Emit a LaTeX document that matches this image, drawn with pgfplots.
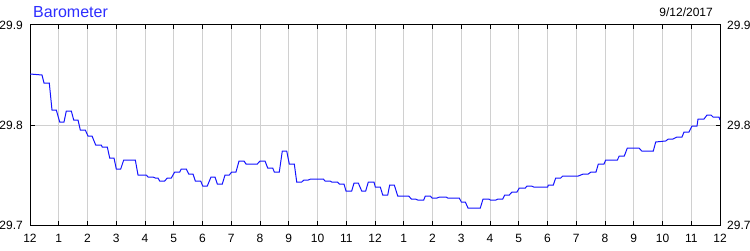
\documentclass[border=0pt]{standalone}
\usepackage{pgfplots}
\pgfplotsset{compat=1.18}
\usepackage{fontspec}
\setmainfont{Liberation Sans}
\definecolor{linecol}{RGB}{20,20,255}
\definecolor{titlecol}{RGB}{45,45,255}
\definecolor{gridcol}{RGB}{208,208,208}
\begin{document}
\begin{tikzpicture}[x=1bp,y=1bp]
\useasboundingbox (0,0) rectangle (750,250);
\begin{axis}[
  at={(30bp,25bp)}, anchor=south west,
  scale only axis, width=690bp, height=200bp,
  xmin=0, xmax=24, ymin=29.7, ymax=29.9,
  xtick={0,...,24},
  xticklabels={12,1,2,3,4,5,6,7,8,9,10,11,12,1,2,3,4,5,6,7,8,9,10,11,12},
  ytick={29.7,29.8,29.9},
  /pgf/number format/assume math mode=true,
  /pgf/number format/fixed,
  /pgf/number format/precision=1,
  /pgf/number format/fixed zerofill,
  tick label style={font=\fontsize{12bp}{14bp}\selectfont, text=black},
  xticklabel style={inner sep=0pt, yshift=-9bp},
  yticklabel style={inner sep=0pt, xshift=-7bp},
  ytick pos=both, xtick pos=both,
  yticklabel pos=left,
  tick align=inside,
  major tick length=4.5bp,
  every tick/.style={black, line width=1bp},
  axis line style={black, line width=1bp},
  grid=major,
  major grid style={gridcol, line width=1bp},
  clip=true,
]
\addplot[linecol, line width=1bp] coordinates {
(0,29.851)(0.417,29.850)(0.487,29.842)(0.671,29.842)(0.765,29.815)(0.915,29.815)
(1.033,29.803)(1.183,29.803)(1.263,29.814)(1.437,29.814)(1.520,29.805)(1.670,29.805)
(1.750,29.795)(1.923,29.795)(2.017,29.789)(2.157,29.789)(2.285,29.780)(2.480,29.780)
(2.515,29.778)(2.689,29.778)(2.772,29.767)(2.922,29.767)(3.002,29.756)(3.155,29.756)
(3.259,29.765)(3.663,29.765)(3.757,29.750)(4.045,29.750)(4.104,29.748)(4.278,29.748)
(4.358,29.747)(4.452,29.747)(4.511,29.744)(4.685,29.744)(4.776,29.747)(4.915,29.747)
(5.033,29.753)(5.207,29.753)(5.263,29.756)(5.437,29.756)(5.520,29.751)(5.670,29.751)
(5.750,29.744)(5.937,29.744)(6.007,29.739)(6.167,29.739)(6.296,29.748)(6.435,29.748)
(6.515,29.741)(6.689,29.741)(6.783,29.750)(6.932,29.750)(7.016,29.753)(7.165,29.753)
(7.270,29.764)(7.443,29.764)(7.513,29.761)(7.906,29.761)(8.000,29.764)(8.174,29.764)
(8.268,29.757)(8.442,29.757)(8.497,29.753)(8.671,29.753)(8.776,29.774)(8.929,29.774)
(9.019,29.761)(9.193,29.761)(9.277,29.743)(9.450,29.743)(9.530,29.745)(9.680,29.745)
(9.763,29.746)(10.202,29.746)(10.261,29.744)(10.435,29.744)(10.494,29.743)(10.689,29.743)
(10.758,29.741)(10.922,29.741)(10.991,29.734)(11.190,29.734)(11.270,29.742)(11.419,29.742)
(11.537,29.734)(11.677,29.734)(11.767,29.743)(11.965,29.743)(12.010,29.738)(12.184,29.738)
(12.268,29.730)(12.442,29.730)(12.511,29.740)(12.671,29.740)(12.790,29.729)(13.172,29.729)
(13.263,29.726)(13.402,29.726)(13.485,29.725)(13.694,29.725)(13.750,29.729)(13.923,29.729)
(13.983,29.727)(14.157,29.727)(14.250,29.728)(14.470,29.728)(14.529,29.727)(14.932,29.727)
(15.002,29.723)(15.141,29.723)(15.235,29.717)(15.663,29.717)(15.757,29.726)(15.955,29.726)
(16.010,29.725)(16.209,29.725)(16.278,29.726)(16.442,29.726)(16.511,29.730)(16.671,29.730)
(16.765,29.733)(16.939,29.733)(17.019,29.737)(17.228,29.737)(17.287,29.739)(17.437,29.739)
(17.520,29.738)(18.007,29.738)(18.028,29.740)(18.202,29.740)(18.285,29.747)(18.459,29.747)
(18.529,29.749)(19.071,29.749)(19.245,29.751)(19.419,29.751)(19.513,29.753)(19.687,29.753)
(19.767,29.761)(19.965,29.761)(20.024,29.765)(20.428,29.765)(20.497,29.769)(20.671,29.769)
(20.776,29.777)(21.183,29.777)(21.277,29.774)(21.680,29.774)(21.763,29.783)(22.111,29.784)
(22.202,29.786)(22.365,29.786)(22.504,29.788)(22.678,29.788)(22.748,29.793)(22.922,29.793)
(23.026,29.799)(23.200,29.799)(23.235,29.806)(23.443,29.806)(23.548,29.810)(23.687,29.810)
(23.757,29.808)(23.965,29.808)(24,29.805)
};
\end{axis}
\node[anchor=west, inner sep=0pt, text=titlecol, font=\fontsize{16bp}{18bp}\selectfont] at (33,238) {Barometer};
\node[anchor=east, inner sep=0pt, font=\fontsize{12bp}{14bp}\selectfont] at (713,238) {9/12/2017};
\begin{scope}[font=\fontsize{12bp}{14bp}\selectfont]
\node[anchor=west, inner sep=0pt] at (727,225) {29.9};
\node[anchor=west, inner sep=0pt] at (727,125) {29.8};
\node[anchor=west, inner sep=0pt] at (727,25) {29.7};
\end{scope}
\end{tikzpicture}
\end{document}
